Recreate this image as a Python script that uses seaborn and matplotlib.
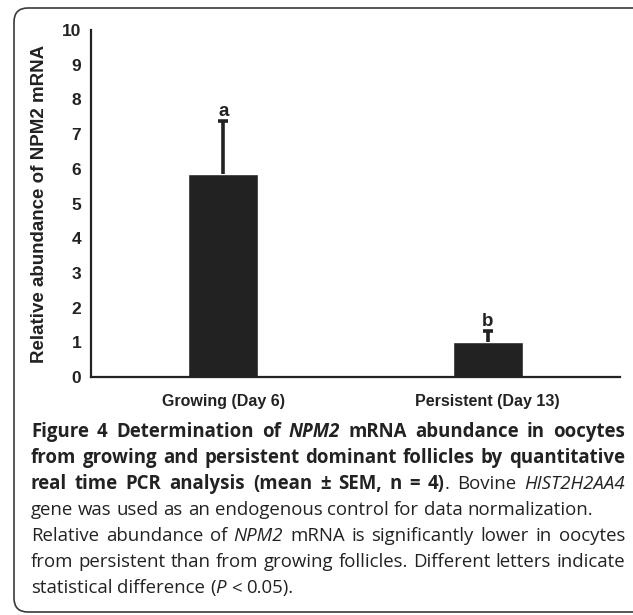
import matplotlib
matplotlib.use("Agg")
import matplotlib.pyplot as plt
from matplotlib.patches import FancyBboxPatch
import seaborn as sns
import numpy as np

# ---- data ----
categories = ["Growing (Day 6)", "Persistent (Day 13)"]
means = [5.84, 1.00]
sem_upper = [1.53, 0.32]
letters = ["a", "b"]
y_ticks = [0, 1, 2, 3, 4, 5, 6, 7, 8, 9, 10]
ylabel = "Relative abundance of NPM2 mRNA"

caption_lines = [
    ([("Figure 4", "bold", "normal"), (" Determination of ", "bold", "normal"),
      ("NPM2", "bold", "italic"), (" mRNA abundance in oocytes", "bold", "normal")], True),
    ([("from growing and persistent dominant follicles by quantitative", "bold", "normal")], True),
    ([("real time PCR analysis (mean \u00b1 SEM, n = 4)", "bold", "normal"), (". Bovine ", "normal", "normal"),
      ("HIST2H2AA4", "normal", "italic")], True),
    ([("gene was used as an endogenous control for data normalization.", "normal", "normal")], False),
    ([("Relative abundance of ", "normal", "normal"), ("NPM2", "normal", "italic"),
      (" mRNA is significantly lower in oocytes", "normal", "normal")], True),
    ([("from persistent than from growing follicles. Different letters indicate", "normal", "normal")], True),
    ([("statistical difference (", "normal", "normal"), ("P", "normal", "italic"),
      (" < 0.05).", "normal", "normal")], False),
]

W, H = 633, 615
DPI = 100
sns.set_theme(style="white")
plt.rcParams["font.family"] = ["Liberation Sans", "DejaVu Sans"]

fig = plt.figure(figsize=(W / DPI, H / DPI), dpi=DPI)
fig.patch.set_facecolor("white")

# rounded border (pixel -> inches)
box = FancyBboxPatch((14 / DPI, 3 / DPI), (660 - 14) / DPI, (607 - 3) / DPI,
                     boxstyle="round,pad=0,rounding_size=0.14",
                     transform=fig.dpi_scale_trans, facecolor="none",
                     edgecolor="#3a3a3a", linewidth=1.2, zorder=0)
fig.patches.append(box)

ax_left, ax_right, ax_top, ax_bottom = 91, 620, 30, 377
ax = fig.add_axes([ax_left / W, 1 - ax_bottom / H, (ax_right - ax_left) / W, (ax_bottom - ax_top) / H])
ax.set_facecolor("none")

bar_color = "#222222"
sns.barplot(x=categories, y=means, color=bar_color, saturation=1, width=0.265,
            errorbar=None, ax=ax, zorder=2)
eb = ax.errorbar(x=np.arange(len(means)), y=means, yerr=[np.zeros(len(means)), sem_upper],
                 fmt="none", ecolor=bar_color, elinewidth=2.6, capsize=3.5, capthick=2.6, zorder=3)
# only the upper half of the error bar is shown
if len(eb[1]) == 2:
    eb[1][0].set_visible(False)

for i, (m, e, l) in enumerate(zip(means, sem_upper, letters)):
    ax.text(i, m + e + 0.16, l, ha="center", va="baseline", fontsize=13.5,
            fontweight="bold", color="#222222")

ax.set_xlim(-0.5, 1.5)
ax.set_ylim(0, 10)
ax.set_yticks(y_ticks)
ax.set_yticklabels([str(t) for t in y_ticks], fontsize=12.5, fontweight="bold", color="#222222")
ax.set_xticks([0, 1])
ax.set_xticklabels(categories, fontsize=11.5, fontweight="bold", color="#222222")
ax.set_xticks([-0.5, 0.5, 1.5], minor=True)
ax.tick_params(axis="x", which="major", length=0, pad=12)
ax.tick_params(axis="x", which="minor", length=4, width=1.5, color="#222222", direction="out")
ax.tick_params(axis="y", which="major", length=4, width=1.5, color="#222222", direction="out", pad=3)
ax.set_xlabel("")

for s in ["top", "right"]:
    ax.spines[s].set_visible(False)
for s in ["left", "bottom"]:
    ax.spines[s].set_linewidth(1.6)
    ax.spines[s].set_color("#222222")

ax.set_ylabel(ylabel, fontsize=13.5, fontweight="bold", color="#222222", va="center")
ax.yaxis.set_label_coords((40 - ax_left) / (ax_right - ax_left), 0.5)

# ---- caption with word-level layout ----
cap_font = ["Open Sans", "DejaVu Sans"]
cap_color = "#222222"
x_start, x_end = 31, 625
line_y0, line_dy = 432, 26
renderer = fig.canvas.get_renderer()


def measure(txt, weight, style, size):
    t = fig.text(0, 0, txt, fontsize=size, fontweight=weight, fontstyle=style, family=cap_font)
    w = t.get_window_extent(renderer=renderer).width
    t.remove()
    return w


def line_items(segs):
    tokens = []
    for txt, weight, style in segs:
        parts = txt.split(" ")
        for pi, p in enumerate(parts):
            if pi > 0:
                tokens.append(("SPACE", weight, style))
            if p:
                tokens.append((p, weight, style))
    items = []
    gap_flag = False
    for tk in tokens:
        if tk[0] == "SPACE":
            gap_flag = True
        else:
            items.append((tk[0], tk[1], tk[2], gap_flag))
            gap_flag = False
    return items


# choose the caption size so that the widest line naturally fills the box width
base = 10.0
nat = []
for segs, _ in caption_lines:
    items = line_items(segs)
    sw = measure("a a", "normal", "normal", base) - measure("aa", "normal", "normal", base)
    nat.append(sum(measure(w, wt, st, base) for w, wt, st, _ in items) + sw * sum(1 for it in items if it[3]))
cap_size = base * (x_end - x_start) / max(nat) * 0.995

for li, (segs, justify) in enumerate(caption_lines):
    items = line_items(segs)
    widths = [measure(w, wt, st, cap_size) for w, wt, st, _ in items]
    space_w = measure("a a", "normal", "normal", cap_size) - measure("aa", "normal", "normal", cap_size)
    n_gaps = sum(1 for it in items if it[3])
    if justify and n_gaps > 0:
        gap = (x_end - x_start - sum(widths)) / n_gaps
    else:
        gap = space_w
    x = x_start
    y = H - (line_y0 + li * line_dy)
    for (w, wt, st, g), wd in zip(items, widths):
        if g:
            x += gap
        fig.text(x / W, y / H, w, fontsize=cap_size, fontweight=wt, fontstyle=st,
                 family=cap_font, color=cap_color, ha="left", va="center")
        x += wd

fig.savefig("out.png", dpi=DPI, facecolor="white")
